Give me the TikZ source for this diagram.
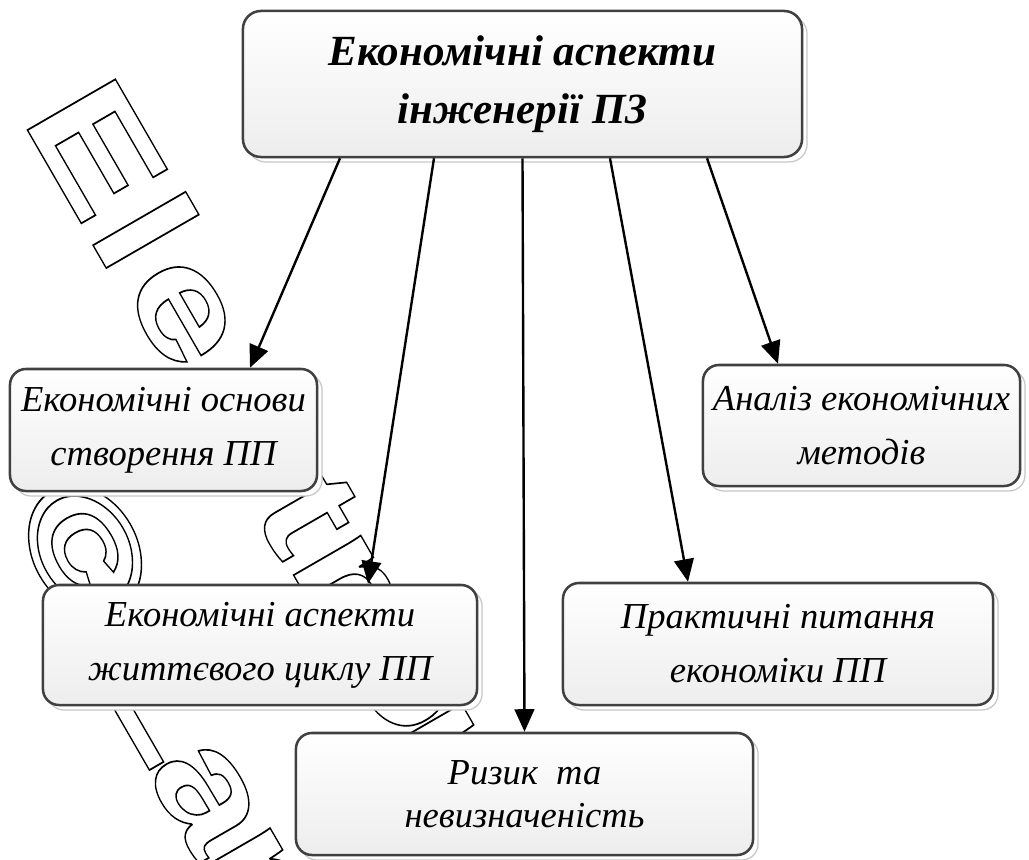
\documentclass[tikz,border=0pt]{standalone}
\usepackage{fontspec}
\setmainfont{Liberation Serif}
\newfontfamily\wmfont{Liberation Sans}[UprightFeatures={FakeBold=0.9},BoldFeatures={FakeBold=0.9}]
\usetikzlibrary{arrows.meta,calc}

\tikzset{
  box/.style={draw=black!75, line width=1.8pt, rounded corners=0.4cm,
    top color=white, bottom color=gray!14, align=center, inner sep=0pt,
    font=\fontsize{26}{38.4}\selectfont\itshape,
    preaction={draw=black!22, line width=0.9pt, fill=white,
      transform canvas={shift={(5,5)}}}},
  titlebox/.style={box, rounded corners=0.45cm,
    font=\fontsize{30.6}{41.2}\selectfont\bfseries\itshape},
  arr/.style={line width=1.7pt, -{Triangle[length=16pt,width=14pt]}},
  wm/.style={inner sep=0pt, rotate=-60, xscale=1.3,
    font=\wmfont\bfseries\fontsize{105}{105}\selectfont}
}
% outlined letter: white fill, black stroke (fill+stroke text mode from FakeBold)
\newcommand{\wmletter}[1]{\special{pdf:bcolor [1] [0]}#1\special{pdf:ecolor}}

\begin{document}
\begin{tikzpicture}[x=0.025cm, y=-0.025cm]
\useasboundingbox (0,0) rectangle (1029,859);

% outlined watermark letters, behind everything
\node[wm] (w1) at (97,149) {\wmletter{E}};
\node[wm] (w2) at (146,230) {\wmletter{l}};
\node[wm] (w3) at (181,313) {\wmletter{e}};
\node[wm] (w4) at (244,417) {\wmletter{c}};
\node[wm] (w5) at (308,513) {\wmletter{t}};
\node[wm] (w6) at (340,576) {\wmletter{r}};
\node[wm] (w7) at (400,676) {\wmletter{o}};
\node[wm] (w8) at (451,762) {\wmletter{n}};
\node[wm] (w9) at (85,550) {\wmletter{©}};
\node[wm] (w10) at (167,699) {\wmletter{L}};
\node[wm] (w11) at (205,797) {\wmletter{a}};
\node[wm] (w12) at (260,887) {\wmletter{n}};

% boxes
\node[titlebox, minimum width=13.975cm, minimum height=3.65cm] (top) at (522.5,84)
  {Економічні аспекти\\інженерії ПЗ};
\node[box, minimum width=7.675cm, minimum height=3.05cm] (b2) at (163.5,430)
  {Економічні основи\\створення ПП};
\node[box, minimum width=7.925cm, minimum height=3.025cm] (b3) at (861.5,425.5)
  {Аналіз економічних\\методів};
\node[box, minimum width=10.85cm, minimum height=3.0cm] (b4) at (260,645)
  {Економічні аспекти\\життєвого циклу ПП};
\node[box, minimum width=10.75cm, minimum height=3.05cm] (b5) at (778,644)
  {Практичні питання\\економіки ПП};
\node[box, minimum width=11.425cm, minimum height=3.05cm,
  font=\fontsize{26}{30.6}\selectfont\itshape] (b6) at (524.5,794)
  {Ризик\ \ та\\невизначеність};

% connectors
\draw[arr] ($(top.south)+(-182.5,0)$) -- ($(b2.north)+(86.5,0)$);
\draw[arr] ($(top.south)+(-88.5,0)$) -- ($(b4.north)+(108,0)$);
\draw[arr] (top.south) -- (b6.north);
\draw[arr] ($(top.south)+(87.5,0)$) -- ($(b5.north)+(-90,0)$);
\draw[arr] ($(top.south)+(184.5,0)$) -- ($(b3.north)+(-83.5,0)$);
\end{tikzpicture}
\end{document}
